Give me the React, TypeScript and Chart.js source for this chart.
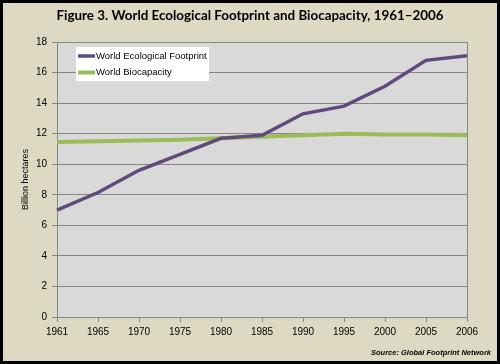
import React, { useEffect, useRef } from "react";
import { Chart, registerables } from "chart.js";

Chart.register(...registerables);

const years = ["1961", "1965", "1970", "1975", "1980", "1985", "1990", "1995", "2000", "2005", "2006"];
const footprint = [7.0, 8.15, 9.6, 10.65, 11.7, 11.9, 13.3, 13.8, 15.1, 16.8, 17.1];
const biocapacity = [11.45, 11.5, 11.55, 11.6, 11.7, 11.8, 11.9, 12.0, 11.95, 11.95, 11.9];
const seriesNames = ["World Ecological Footprint", "World Biocapacity"];
const titleText = "Figure 3. World Ecological Footprint and Biocapacity, 1961\u20132006";
const yAxisTitle = "Billion hectares";
const sourceText = "Source: Global Footprint Network";

const PURPLE = "#604A7B";
const GREEN = "#9BBB59";
const GRID = "#868686";

const decor = {
  id: "decor",
  beforeDraw(chart: any) {
    const { ctx, chartArea: a, width, height } = chart;
    ctx.save();
    ctx.fillStyle = "#DDD9C3";
    ctx.fillRect(0, 0, width, height);
    ctx.strokeStyle = "#000";
    ctx.lineWidth = 3;
    ctx.strokeRect(1.5, 1.5, width - 3, height - 3);
    ctx.fillStyle = "#D9D9D9";
    ctx.fillRect(a.left, a.top, a.right - a.left, a.bottom - a.top);
    ctx.restore();
  },
  afterDraw(chart: any) {
    const { ctx, chartArea: a } = chart;
    ctx.save();
    // right border of plot area
    ctx.strokeStyle = GRID;
    ctx.lineWidth = 1;
    ctx.beginPath();
    ctx.moveTo(Math.round(a.right) + 0.5, a.top);
    ctx.lineTo(Math.round(a.right) + 0.5, a.bottom);
    ctx.stroke();

    // title
    ctx.fillStyle = "#000";
    ctx.font = "bold 13.4px Lato";
    ctx.textAlign = "center";
    ctx.textBaseline = "middle";
    ctx.fillText(titleText, 250, 16);

    // source
    ctx.font = "italic bold 7.5px 'Liberation Sans'";
    ctx.textAlign = "right";
    ctx.textBaseline = "middle";
    ctx.fillText(sourceText, 491, 353);

    // legend
    const bx = a.left + 19;
    const by = a.top + 5;
    ctx.fillStyle = "#FFFFFF";
    ctx.fillRect(bx, by, 133, 34);
    const colors = [PURPLE, GREEN];
    const widths = [3.5, 4];
    ctx.font = "9.5px 'Liberation Sans'";
    ctx.textAlign = "left";
    ctx.textBaseline = "middle";
    seriesNames.forEach((name, i) => {
      const y = by + 9 + i * 16.5;
      ctx.strokeStyle = colors[i];
      ctx.lineWidth = widths[i];
      ctx.beginPath();
      ctx.moveTo(bx + 2, y);
      ctx.lineTo(bx + 19, y);
      ctx.stroke();
      ctx.fillStyle = "#000";
      ctx.fillText(name, bx + 20, y);
    });
    ctx.restore();
  },
};

export default function App() {
  const ref = useRef<HTMLCanvasElement | null>(null);

  useEffect(() => {
    if (!ref.current) return;
    const tickFont = { family: "'Liberation Sans'", size: 10 };
    const chart = new Chart(ref.current, {
      type: "line",
      data: {
        labels: years,
        datasets: [
          {
            label: seriesNames[0],
            data: footprint,
            borderColor: PURPLE,
            backgroundColor: PURPLE,
            borderWidth: 3.5,
            pointRadius: 0,
            tension: 0,
          },
          {
            label: seriesNames[1],
            data: biocapacity,
            borderColor: GREEN,
            backgroundColor: GREEN,
            borderWidth: 4,
            pointRadius: 0,
            tension: 0,
          },
        ],
      },
      options: {
        responsive: false,
        animation: false,
        devicePixelRatio: 1,
        layout: { padding: { left: 0, top: 42, right: 33, bottom: 0 } },
        plugins: {
          legend: { display: false },
          title: { display: false },
          tooltip: { enabled: false },
        },
        scales: {
          x: {
            type: "category",
            offset: false,
            grid: {
              display: true,
              drawOnChartArea: false,
              drawTicks: true,
              tickLength: 5,
              color: GRID,
            },
            border: { display: true, color: GRID },
            ticks: {
              font: tickFont,
              color: "#000",
              padding: 4,
              maxRotation: 0,
              autoSkip: false,
            },
            afterFit: (s: any) => {
              s.height = 47;
            },
          },
          y: {
            min: 0,
            max: 18,
            ticks: {
              stepSize: 2,
              font: tickFont,
              color: "#000",
              padding: 5,
            },
            grid: { color: GRID, tickLength: 5, drawTicks: true },
            border: { display: true, color: GRID },
            title: {
              display: true,
              text: yAxisTitle,
              font: { family: "'Liberation Sans'", size: 9 },
              color: "#000",
              padding: { top: 20, bottom: 0 },
            },
            afterFit: (s: any) => {
              s.width = 57;
            },
          },
        },
      },
      plugins: [decor],
    });
    return () => chart.destroy();
  }, []);

  return (
    <div style={{ position: "fixed", left: 0, top: 0, width: 500, height: 364 }}>
      <canvas ref={ref} width={500} height={364} style={{ display: "block" }} />
    </div>
  );
}
